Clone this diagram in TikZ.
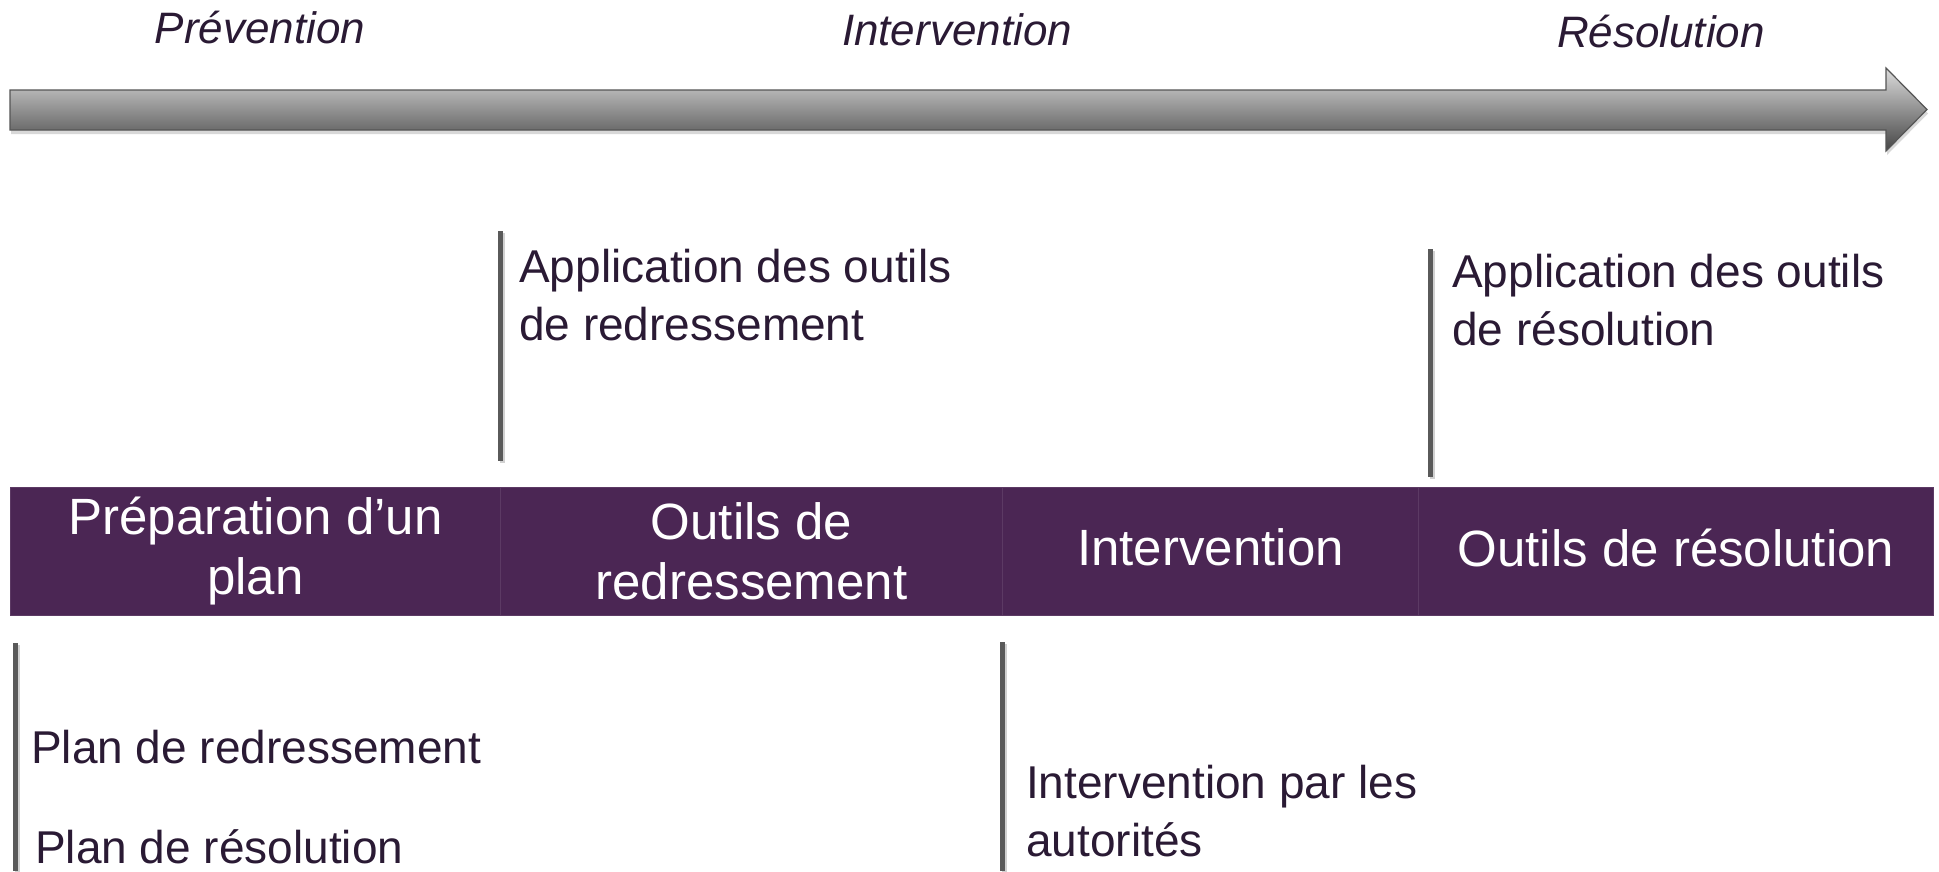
\documentclass[tikz,border=0pt]{standalone}
\usepackage{fontspec}
\setmainfont{Liberation Sans}
\usetikzlibrary{shadows}
\definecolor{txtdark}{RGB}{42,26,52}
\definecolor{barpurple}{RGB}{75,38,84}
\definecolor{bardiv}{RGB}{92,58,100}
\definecolor{tickgray}{RGB}{90,90,90}
\definecolor{arrtop}{RGB}{220,220,220}
\definecolor{arrbot}{RGB}{70,70,70}
\definecolor{arredge}{RGB}{85,85,85}
\begin{document}
\begin{tikzpicture}[x=1pt,y=-1pt,
  hdr/.style={font=\fontsize{44}{50}\selectfont\itshape, text=txtdark, inner sep=0pt, anchor=base},
  cell/.style={fill=barpurple, draw=bardiv, line width=1pt, minimum height=128pt, text=white,
    font=\fontsize{51}{60}\selectfont, align=center, inner sep=0pt, anchor=north west},
  body/.style={font=\fontsize{46}{58}\selectfont, text=txtdark, align=left, inner sep=0pt, anchor=base west},
  tickline/.style={draw=tickgray, line width=5pt},
  tickshadow/.style={draw=black, opacity=0.18, line width=5pt}
]
\useasboundingbox (0,0) rectangle (1939,871);
\fill[white] (0,0) rectangle (1939,871);

% headers
\node[hdr] (hprev) at (260,43) {Prévention};
\node[hdr] (hint) at (957,45) {Intervention};
\node[hdr] (hres) at (1661,47) {Résolution};

% timeline arrow
\path[draw=arredge, line width=1.2pt, top color=arrtop, bottom color=arrbot,
  drop shadow={shadow xshift=1pt, shadow yshift=-4pt, opacity=0.3}]
  (10,90) -- (1886,90) -- (1886,68) -- (1927,109.5) -- (1886,151) -- (1886,130) -- (10,130) -- cycle;

% bar cells
\node[cell, minimum width=490pt] (c1) at (10,487) {Préparation d’un\\plan};
\node[cell, minimum width=502pt] (c2) at (500,487) {Outils de\\redressement};
\node[cell, minimum width=416pt] (c3) at (1002,487) {\raisebox{4pt}[\height][\depth]{Intervention}};
\node[cell, minimum width=515pt] (c4) at (1418,487) {\raisebox{4pt}[\height][\depth]{Outils de résolution}};

% tick lines
\coordinate (t1a) at (500,231); \coordinate (t1b) at (500,461);
\coordinate (t2a) at (1430,249); \coordinate (t2b) at (1430,477);
\coordinate (t3a) at (15,643); \coordinate (t3b) at (15,871);
\coordinate (t4a) at (1002,642); \coordinate (t4b) at (1002,871);
\foreach \a/\b in {t1a/t1b,t2a/t2b,t3a/t3b,t4a/t4b}{
  \draw[tickshadow] ([xshift=2pt,yshift=-2pt]\a) -- ([xshift=2pt,yshift=-2pt]\b);
  \draw[tickline] (\a) -- (\b);
}

% texts (base anchor = baseline of the last line)
\node[body] (app1) at (519,340) {Application des outils\\de redressement};
\node[body] (app2) at (1452,345) {Application des outils\\de résolution};
\node[body] (pred) at (31,763) {Plan de redressement};
\node[body] (pres) at (35,863) {Plan de résolution};
\node[body] (iaut) at (1026,856) {Intervention par les\\autorités};
\end{tikzpicture}
\end{document}
